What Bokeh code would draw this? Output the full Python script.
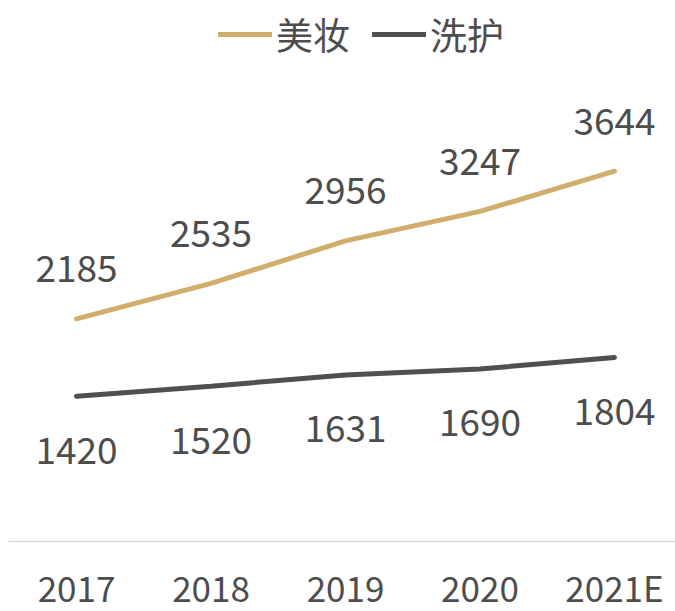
from bokeh.plotting import figure
from bokeh.models import Range1d, FixedTicker, ColumnDataSource, Legend, LegendItem
from bokeh.core.properties import value
from bokeh.embed import file_html
from bokeh.resources import INLINE

years = ["2017", "2018", "2019", "2020", "2021E"]
meizhuang = [2185, 2535, 2956, 3247, 3644]
xihu = [1420, 1520, 1631, 1690, 1804]

FONT = "Noto Sans CJK SC"
GOLD = "#d2ae6d"
DARK = "#505050"
TXT = "#4d4d4d"

xs = list(range(len(years)))
src = ColumnDataSource(dict(x=xs, mz=meizhuang, xh=xihu,
                            mzl=[str(v) for v in meizhuang],
                            xhl=[str(v) for v in xihu]))

p = figure(frame_width=667, frame_height=533, output_backend="svg", toolbar_location=None,
           x_range=Range1d(-0.506, 4.454), y_range=Range1d(-15, 5252),
           min_border_left=8, min_border_right=0, min_border_top=8, min_border_bottom=0)
p.outline_line_color = None
p.xgrid.visible = False
p.ygrid.visible = False
p.yaxis.visible = False

ax = p.xaxis[0]
ax.ticker = FixedTicker(ticks=xs)
ax.major_label_overrides = {i: y for i, y in enumerate(years)}
ax.major_tick_out = 0
ax.major_tick_in = 0
ax.minor_tick_out = 0
ax.minor_tick_in = 0
ax.axis_line_color = "#d9d9d9"
ax.axis_line_width = 1.5
ax.major_label_text_font = FONT
ax.major_label_text_font_size = "35px"
ax.major_label_text_color = TXT
ax.major_label_standoff = 19

r1 = p.line("x", "mz", source=src, line_color=GOLD, line_width=5, line_cap="round")
r2 = p.line("x", "xh", source=src, line_color=DARK, line_width=5, line_cap="round")

p.text("x", "mz", text="mzl", source=src, text_font=value(FONT), text_font_size="37px",
       text_color=TXT, text_align="center", text_baseline="middle", y_offset=-50)
p.text("x", "xh", text="xhl", source=src, text_font=value(FONT), text_font_size="37px",
       text_color=TXT, text_align="center", text_baseline="middle", y_offset=54)

legend = Legend(items=[LegendItem(label="美妆", renderers=[r1]),
                       LegendItem(label="洗护", renderers=[r2])],
                orientation="horizontal", location=(210, 480),
                label_text_font=FONT, label_text_font_size="37px", label_text_color=TXT,
                glyph_width=54, glyph_height=50, label_height=50, label_standoff=4,
                spacing=22, padding=0, margin=0, border_line_color=None,
                background_fill_alpha=0)
p.add_layout(legend, "center")

open("out.html", "w").write(file_html(p, INLINE))
